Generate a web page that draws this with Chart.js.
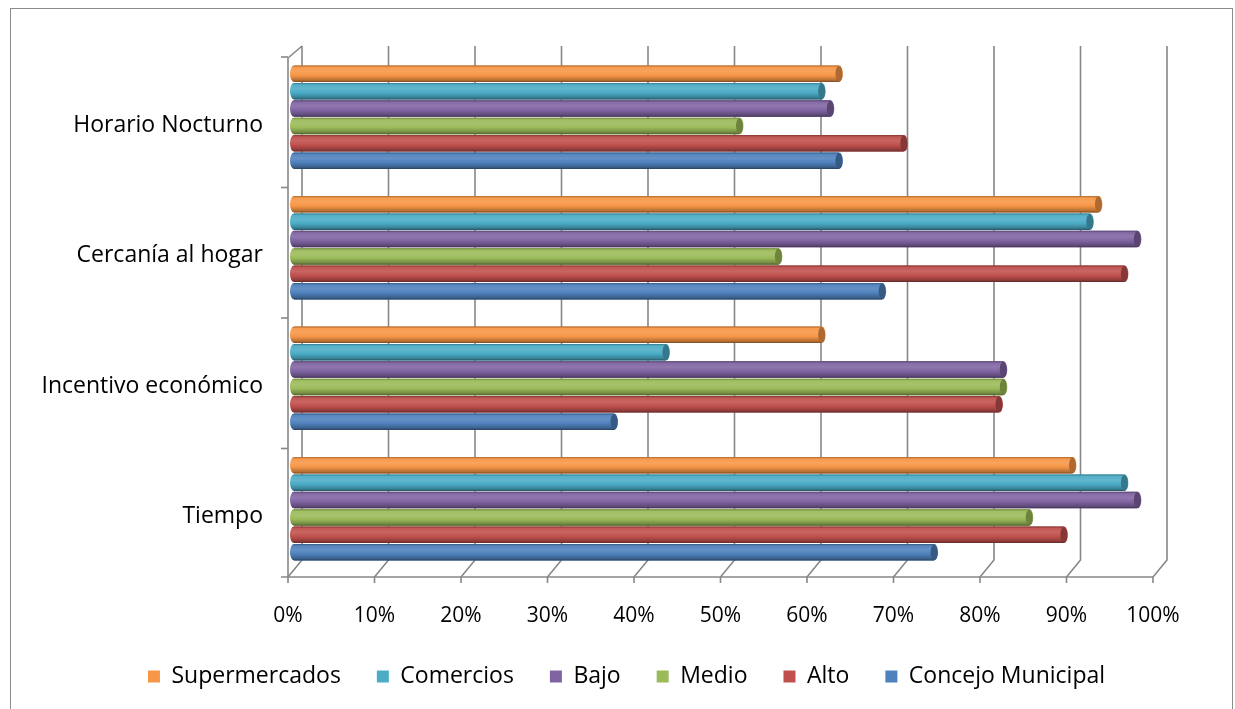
<!DOCTYPE html>
<html>
<head>
<meta charset="utf-8">
<script src="https://cdn.jsdelivr.net/npm/chart.js@4.4.0/dist/chart.umd.min.js"></script>
<style>
  html, body { margin: 0; padding: 0; background: #fff; }
  .frame { position: absolute; left: 10px; top: 8px; width: 1221px; height: 720px; border: 1px solid #8c8c8c; }
  #wrap { position: absolute; left: 0; top: 0; width: 1235px; height: 709px; }
</style>
</head>
<body>
<div class="frame"></div>
<div id="wrap"><canvas id="chart" width="1235" height="709"></canvas></div>
<script>
const categories = ["Horario Nocturno", "Cercanía al hogar", "Incentivo económico", "Tiempo"];
const seriesNames = ["Supermercados", "Comercios", "Bajo", "Medio", "Alto", "Concejo Municipal"];
const supermercados = [0.63, 0.93, 0.61, 0.90];
const comercios = [0.61, 0.92, 0.43, 0.96];
const bajo = [0.62, 0.975, 0.82, 0.975];
const medio = [0.515, 0.56, 0.82, 0.85];
const alto = [0.705, 0.96, 0.815, 0.89];
const concejo = [0.63, 0.68, 0.37, 0.74];
const xTicks = [0, 0.1, 0.2, 0.3, 0.4, 0.5, 0.6, 0.7, 0.8, 0.9, 1];
const seriesColors = ["#F79646", "#4BACC6", "#8064A2", "#9BBB59", "#C0504D", "#4F81BD"];

const FONT = "'Open Sans'";
const seriesValues = [supermercados, comercios, bajo, medio, alto, concejo];

function shade(hex, amt) {
    const n = parseInt(hex.slice(1), 16);
    let r = (n >> 16) & 255, g = (n >> 8) & 255, b = n & 255;
    const t = amt < 0 ? 0 : 255, p = Math.abs(amt);
    r = Math.round(r + (t - r) * p);
    g = Math.round(g + (t - g) * p);
    b = Math.round(b + (t - b) * p);
    return `rgb(${r},${g},${b})`;
}

// back wall, floor and axes drawn like the 3d chart
const frame3d = {
    id: 'frame3d',
    afterLayout(chart) {
        // legend sits a bit right of centre in the original
        chart.legend.left += 47;
        chart.legend.right += 47;
    },
    beforeDatasetsDraw(chart) {
        const { ctx, chartArea, scales: { x, y } } = chart;
        const backTop = chartArea.top - 6;
        const backBottom = chartArea.bottom - 14;
        const frontTop = chartArea.top + 6;
        const frontBottom = chartArea.bottom + 3;
        const x0 = x.getPixelForValue(0) - 6;
        const x1 = x.getPixelForValue(1) - 6;
        ctx.save();
        ctx.strokeStyle = '#878787';
        ctx.lineWidth = 1.6;
        xTicks.forEach(v => {
            const bx = x.getPixelForValue(v) + 8;
            ctx.beginPath();
            ctx.moveTo(bx, backTop);
            ctx.lineTo(bx, backBottom);
            ctx.lineTo(bx - 14, frontBottom);
            ctx.lineTo(bx - 14, frontBottom + 6);
            ctx.stroke();
        });
        ctx.beginPath();
        ctx.moveTo(x0 - 7, frontBottom);
        ctx.lineTo(x1, frontBottom);
        ctx.stroke();
        ctx.beginPath();
        ctx.moveTo(x0 + 14, backTop);
        ctx.lineTo(x0, frontTop);
        ctx.lineTo(x0, frontBottom);
        ctx.stroke();
        for (let i = 0; i < categories.length; i++) {
            const yy = y.getPixelForValue(i - 0.5) + 5;
            ctx.beginPath();
            ctx.moveTo(x0 - 7, yy);
            ctx.lineTo(x0, yy);
            ctx.stroke();
        }
        ctx.restore();
    }
};

// cylinder look for the bars
const cylinders = {
    id: 'cylinders',
    afterDatasetsDraw(chart) {
        const ctx = chart.ctx;
        chart.data.datasets.forEach((ds, i) => {
            const meta = chart.getDatasetMeta(i);
            if (meta.hidden) return;
            const c = seriesColors[i];
            meta.data.forEach(bar => {
                const { x, y, base, height } = bar.getProps(['x', 'y', 'base', 'height'], true);
                const top = y - height / 2, r = height / 2, capW = 4;
                const g = ctx.createLinearGradient(0, top, 0, top + height);
                g.addColorStop(0, shade(c, -0.3));
                g.addColorStop(0.12, shade(c, 0.05));
                g.addColorStop(0.35, shade(c, 0.12));
                g.addColorStop(0.6, c);
                g.addColorStop(0.88, shade(c, -0.25));
                g.addColorStop(1, shade(c, -0.5));
                ctx.save();
                ctx.fillStyle = g;
                ctx.beginPath();
                ctx.moveTo(base, top);
                ctx.lineTo(x, top);
                ctx.ellipse(x, y, capW, r, 0, -Math.PI / 2, Math.PI / 2);
                ctx.lineTo(base, top + height);
                ctx.ellipse(base, y, capW, r, 0, Math.PI / 2, Math.PI * 1.5);
                ctx.closePath();
                ctx.fill();
                ctx.fillStyle = shade(c, -0.3);
                ctx.beginPath();
                ctx.ellipse(x, y, capW - 0.5, r - 0.5, 0, 0, Math.PI * 2);
                ctx.fill();
                ctx.restore();
            });
        });
    }
};

const chart = new Chart(document.getElementById('chart'), {
    type: 'bar',
    data: {
        labels: categories,
        datasets: seriesNames.map((name, i) => ({
            label: name,
            data: seriesValues[i],
            backgroundColor: seriesColors[i],
            borderWidth: 0,
            categoryPercentage: 0.8,
            barPercentage: 0.95
        }))
    },
    options: {
        indexAxis: 'y',
        responsive: false,
        animation: false,
        events: [],
        layout: { padding: { top: 52, right: 76, left: 0, bottom: 11 } },
        scales: {
            x: {
                min: 0,
                max: 1,
                grid: { display: false, drawTicks: false },
                border: { display: false },
                afterFit: s => { s.height = 55; },
                ticks: {
                    stepSize: 0.1,
                    callback: v => Math.round(v * 100) + '%',
                    font: { family: FONT, size: 21 },
                    color: '#000',
                    padding: 29,
                    labelOffset: -6,
                    maxRotation: 0
                }
            },
            y: {
                grid: { display: false, drawTicks: false },
                border: { display: false },
                afterFit: s => { s.width = 294; },
                ticks: {
                    font: { family: FONT, size: 23 },
                    color: '#000',
                    padding: 31,
                    labelOffset: 8
                }
            }
        },
        plugins: {
            tooltip: { enabled: false },
            legend: {
                position: 'bottom',
                maxHeight: 85,
                labels: {
                    boxWidth: 12,
                    boxHeight: 12,
                    padding: 36,
                    color: '#000',
                    font: { family: FONT, size: 23 }
                }
            }
        }
    },
    plugins: [frame3d, cylinders]
});
</script>
</body>
</html>
